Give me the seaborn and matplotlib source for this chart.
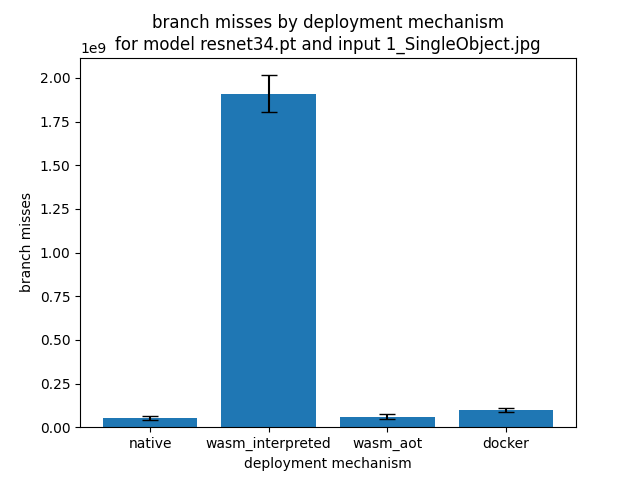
import matplotlib
matplotlib.use("Agg")
import matplotlib.pyplot as plt
import seaborn as sns
import pandas as pd

mechanisms = ["native", "wasm_interpreted", "wasm_aot", "docker"]
misses = [0.053e9, 1.910e9, 0.060e9, 0.100e9]
misses_err = [0.013e9, 0.106e9, 0.013e9, 0.012e9]

df = pd.DataFrame({"mechanism": mechanisms, "misses": misses})

fig, ax = plt.subplots(figsize=(6.4, 4.8), dpi=100)
sns.barplot(data=df, x="mechanism", y="misses", color="#1f77b4", saturation=1,
            errorbar=None, width=0.8, ax=ax)
ax.errorbar(range(len(mechanisms)), misses, yerr=misses_err, fmt="none",
            ecolor="black", capsize=6, elinewidth=1.5)
ax.set_xlabel("deployment mechanism")
ax.set_ylabel("branch misses")
ax.set_title("branch misses by deployment mechanism\nfor model resnet34.pt and input 1_SingleObject.jpg")
fig.savefig("out.png")
